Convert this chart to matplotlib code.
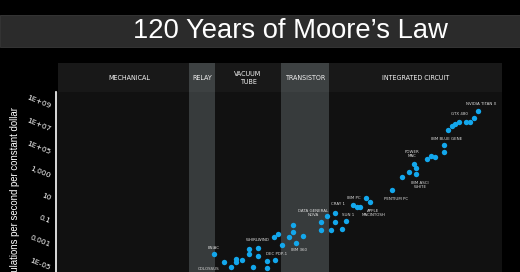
import matplotlib
matplotlib.use("Agg")
import matplotlib.pyplot as plt
from matplotlib.patches import Rectangle

# eras: name, start year, end year
ERA_NAMES = ["MECHANICAL", "RELAY", "VACUUM\nTUBE", "TRANSISTOR", "INTEGRATED CIRCUIT"]
ERA_EDGES = [1900.3, 1935.6, 1942.6, 1960.4, 1973.3, 2020.0]
ERA_SHADED = [False, True, False, True, False]

# machines: year and calculations per second per constant dollar
years = [1942.2, 1945.1, 1947.0, 1948.2, 1948.2, 1949.9, 1951.8, 1951.8, 1954.1, 1954.1,
         1952.9, 1956.7, 1956.7, 1958.7, 1958.6, 1959.5, 1960.6, 1962.5, 1963.5, 1963.5,
         1964.4, 1966.3, 1971.1, 1971.1, 1972.9, 1973.9, 1975.0, 1975.0, 1976.9, 1977.9,
         1979.7, 1980.8, 1981.8, 1983.4, 1984.4, 1990.3, 1993.0, 1995.0, 1996.2, 1996.9,
         1996.9, 1999.7, 2000.8, 2001.9, 2004.4, 2004.4, 2005.4, 2006.5, 2007.4, 2008.4,
         2010.2, 2011.3, 2012.5, 2013.6]
calcs = [1.8e-4, 3.2e-5, 1.3e-5, 6.3e-5, 3.2e-5, 5.0e-5, 4.3e-4, 1.7e-4, 5.8e-4, 1.1e-4,
         1.3e-5, 3.8e-5, 9.5e-6, 5.2e-5, 4.5e-3, 8.5e-3, 1.0e-3, 4.8e-3, 5.5e-2, 1.3e-2,
         1.5e-3, 5.9e-3, 9.3e-2, 1.9e-2, 0.32, 2.1e-2, 0.65, 9.3e-2, 2.6e-2, 0.13,
         3.2, 1.9, 1.9, 12, 5.1, 65, 780, 2200, 1.1e4, 4.7e3,
         1.6e3, 2.8e4, 5.5e4, 4.3e4, 4.7e5, 1.2e5, 1.0e7, 2.3e7, 3.3e7, 5.2e7,
         5.0e7, 5.2e7, 1.1e8, 4.3e8]

# labelled machines: text and index of the point it belongs to
label_texts = ["ENIAC", "COLOSSUS", "WHIRLWIND", "DEC PDP-1", "IBM 360", "DATA GENERAL\nNOVA",
               "CRAY 1", "SUN 1", "IBM PC", "APPLE\nMACINTOSH", "PENTIUM PC", "POWER\nMAC",
               "IBM ASCI\nWHITE", "IBM BLUE GENE", "GTX 480", "NVIDIA TITAN X"]
label_points = [0, 1, 8, 13, 20, 24, 26, 29, 30, 34, 35, 38, 40, 44, 49, 53]
label_offsets = [(0, 6), (-16, -6.5), (0, 7.5), (1.6, 6), (3, -6.7), (-14, 3),
                 (3.3, 9), (2.3, 6), (0.8, 7), (3.3, -10.7), (4, -9), (-1.4, 9.8),
                 (3.7, -11.1), (2.7, 6.6), (0.3, 7.7), (3.4, 7.3)]

ytick_vals = [1e9, 1e7, 1e5, 1e3, 10, 0.1, 0.001, 1e-5]
ytick_labels = ["1E+09", "1E+07", "1E+05", "1,000", "10", "0.1", "0.001", "1E-05"]

W, H = 520, 272
fig = plt.figure(figsize=(W / 100, H / 100), dpi=100, facecolor="black")

# title band
fig.patches.append(Rectangle((0, 1 - 47 / H), 1, 32 / H, transform=fig.transFigure,
                             facecolor="#2b2b2b", edgecolor="#3a3a3a", lw=0.6))
fig.text(290 / W, 1 - 31.5 / H, "120 Years of Moore\u2019s Law", color="white",
         fontsize=19.7, family="Liberation Sans", ha="center", va="center")

left, right = 56 / W, 502 / W
xlim = (1899.7, 2020.0)

# header row with era names
hax = fig.add_axes([left, 1 - 92 / H, right - left, 29 / H])
hax.set_facecolor("#171717")
hax.set_xlim(xlim)
hax.set_ylim(0, 1)
hax.axis("off")
hax.add_patch(Rectangle((ERA_EDGES[0], 0), ERA_EDGES[-1] - ERA_EDGES[0], 1,
                        facecolor="#181818", lw=0))
for i, name in enumerate(ERA_NAMES):
    a, b = ERA_EDGES[i], ERA_EDGES[i + 1]
    if ERA_SHADED[i]:
        hax.axvspan(a, b, color="#3d4142", lw=0)
    hax.text((a + b) / 2 + (1.4 if i == 0 else 0), 0.48, name, color="#f2f2f2",
             fontsize=5.1, ha="center", va="center", family="DejaVu Sans",
             fontstretch="condensed", linespacing=1.25)

# main plot
ax = fig.add_axes([left, 0, right - left, 1 - 92 / H])
fig.patches.append(Rectangle((57 / W, 0), (502 - 57) / W, 1 - 92 / H,
                             transform=fig.transFigure, facecolor="#111111", lw=0, zorder=-1))
ax.set_facecolor("none")
ax.set_xlim(xlim)
ax.set_yscale("log")
ax.set_ylim(10 ** -5.348, 10 ** 10.304)
for i in range(len(ERA_NAMES)):
    if ERA_SHADED[i]:
        ax.axvspan(ERA_EDGES[i], ERA_EDGES[i + 1], color="#373b3c", lw=0, zorder=0)

ax.scatter(years, calcs, s=15, color="#13a7ec", lw=0, zorder=3, clip_on=True)

for txt, idx, (dx, dy) in zip(label_texts, label_points, label_offsets):
    ax.annotate(txt, (years[idx], calcs[idx]), xytext=(dx, dy), textcoords="offset pixels",
                ha="center", va="center", fontsize=2.9, color="#dcdcdc",
                linespacing=1.1, zorder=4)

for s in ["top", "right", "bottom"]:
    ax.spines[s].set_visible(False)
ax.spines["left"].set_color("white")
ax.spines["left"].set_linewidth(1.2)
ax.set_xticks([])
ax.set_yticks(ytick_vals)
ax.set_yticklabels(ytick_labels)
ax.yaxis.set_minor_locator(matplotlib.ticker.NullLocator())
ax.tick_params(axis="y", length=0, pad=4, colors="white", labelsize=5.4)
for lab in ax.get_yticklabels():
    lab.set_rotation(-22)
    lab.set_rotation_mode("anchor")
    lab.set_ha("right")
    lab.set_va("center")

# axis title runs off the bottom edge, as in the reference
fig.text(15.5 / W, 1 - 107 / H, "Calculations per second per constant dollar",
         color="white", fontsize=6.9, family="Liberation Sans", rotation=90,
         ha="center", va="top")

fig.savefig("out.png", dpi=100, facecolor="black")
